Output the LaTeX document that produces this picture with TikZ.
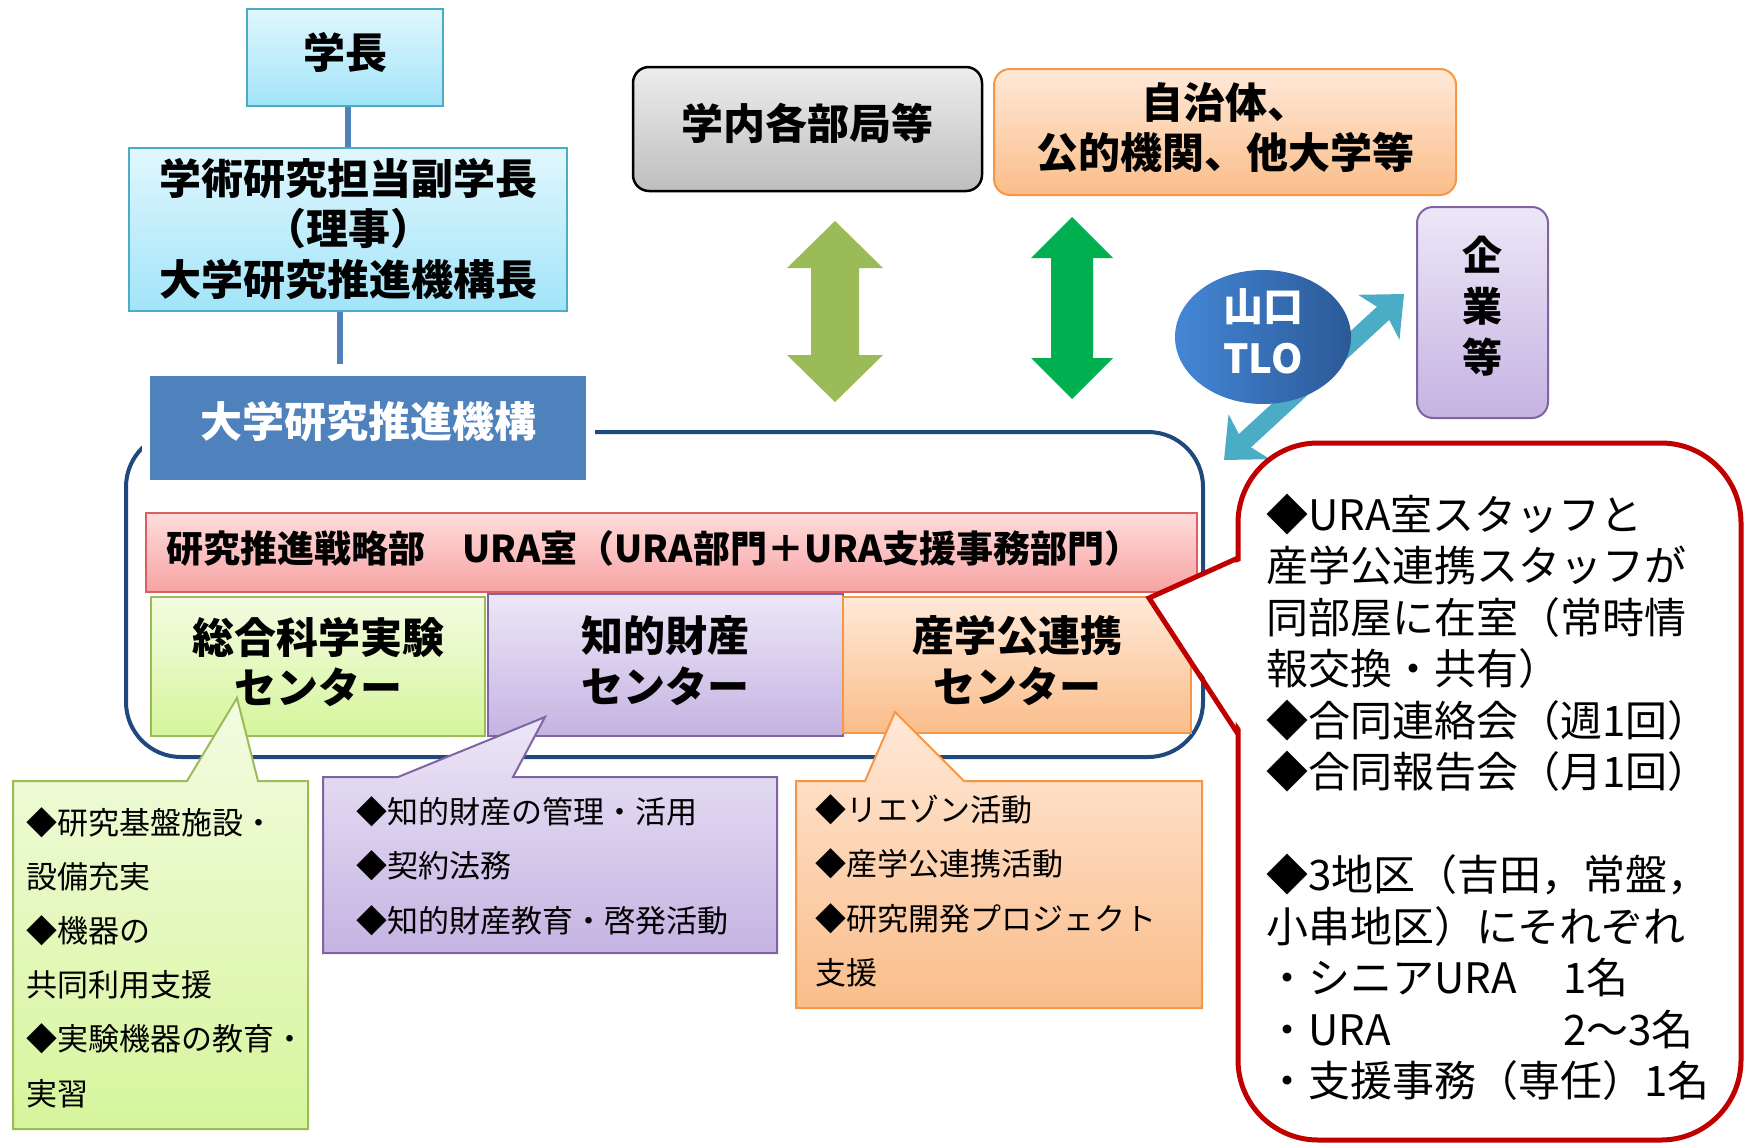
\documentclass[tikz,border=0pt]{standalone}
\usepackage{fontspec}
\setmainfont{Noto Sans CJK JP}
\usetikzlibrary{arrows.meta,shapes.geometric}
\definecolor{cyanB}{HTML}{4BACC6}
\definecolor{cyanT}{HTML}{E0F7FD}
\definecolor{cyanBt}{HTML}{A2E4F9}
\definecolor{kikoB}{HTML}{4F81BD}
\definecolor{frameC}{HTML}{1F497D}
\definecolor{redT}{HTML}{FFDCDC}
\definecolor{redBt}{HTML}{F7A3A3}
\definecolor{redB}{HTML}{D9605C}
\definecolor{grnT}{HTML}{F3FCE2}
\definecolor{grnBt}{HTML}{D6F59C}
\definecolor{grnB}{HTML}{9BBB59}
\definecolor{purT}{HTML}{ECE7F7}
\definecolor{purBt}{HTML}{C5B3E2}
\definecolor{purB}{HTML}{8064A2}
\definecolor{orgT}{HTML}{FFE9D8}
\definecolor{orgBt}{HTML}{FABD8A}
\definecolor{orgB}{HTML}{F79646}
\definecolor{gryT}{HTML}{EDEDED}
\definecolor{gryBt}{HTML}{BEBEBE}
\definecolor{oliveA}{HTML}{9BBB59}
\definecolor{grnArrow}{HTML}{00B050}
\definecolor{tealA}{HTML}{4BACC6}
\definecolor{tloL}{HTML}{4487D6}
\definecolor{tloR}{HTML}{2B5997}
\definecolor{calloutR}{HTML}{C00000}
\tikzset{
  hd/.style={font=\bfseries\fontsize{42}{50.5}\selectfont},
  box/.style={draw, line width=2pt, inner sep=0pt},
  lbl/.style={hd, align=center, inner sep=0pt},
  link/.style={draw=kikoB, line width=6pt},
  txt/.style={font=\fontsize{31}{37}\selectfont, anchor=base west, inner sep=0pt},
  bigtxt/.style={font=\fontsize{42}{50}\selectfont, anchor=base west, inner sep=0pt},
  tealarr/.style={draw=tealA, line width=18pt, {Stealth[length=34pt,width=60pt,inset=8pt]}-{Stealth[length=34pt,width=60pt,inset=8pt]}},
  smallcall/.style={line width=2pt},
}
\begin{document}
\begin{tikzpicture}[x=1pt,y=-1pt]
\useasboundingbox (0,0) rectangle (1744,1143);

% top hierarchy
\node[box, draw=cyanB, top color=cyanT, bottom color=cyanBt, minimum width=196pt, minimum height=97pt] (gakucho) at (345,57.5) {};
\node[lbl] (gakucho-t) at ([yshift=5.5pt]gakucho.center) {学長};
\node[box, draw=cyanB, top color=cyanT, bottom color=cyanBt, minimum width=438pt, minimum height=163pt] (fuku) at (348,229.5) {};
\node[lbl] (fuku-t) at ([yshift=0.5pt]fuku.center) {学術研究担当副学長\\（理事）\\大学研究推進機構長};
\draw[link] (fuku.north) -- (fuku.north |- gakucho.south);
\coordinate (l2) at (340,364);
\draw[link] (l2 |- fuku.south) -- (l2);

% frame
\node[draw=frameC, line width=4pt, rounded corners=55pt, minimum width=1077pt, minimum height=325pt, inner sep=0pt] (frame) at (664.5,594.5) {};
\fill[white] (142,367) rectangle (595,489);
\node[fill=kikoB, minimum width=436pt, minimum height=104pt, inner sep=0pt] (kiko) at (368,428) {};
\node[lbl, text=white] (kiko-t) at ([yshift=6pt]kiko.center) {大学研究推進機構};

% URA bar
\node[box, draw=redB, top color=redT, bottom color=redBt, minimum width=1051pt, minimum height=79pt] (ura) at (671.5,552.5) {};
\node[inner sep=0pt, anchor=west, font=\bfseries\fontsize{37}{44}\selectfont] (ura-t) at ([xshift=21pt,yshift=4.5pt]ura.west) {研究推進戦略部　URA室（URA部門＋URA支援事務部門）};

% centers
\node[box, draw=grnB, top color=grnT, bottom color=grnBt, minimum width=334pt, minimum height=139pt] (sogo) at (318,666.5) {};
\node[lbl] (sogo-t) at ([yshift=4.5pt]sogo.center) {総合科学実験\\センター};
\node[box, draw=purB, top color=purT, bottom color=purBt, minimum width=355pt, minimum height=142pt] (chiteki) at (665.5,665) {};
\node[lbl] (chiteki-t) at ([yshift=4.5pt]chiteki.center) {知的財産\\センター};
\node[box, draw=orgB, top color=orgT, bottom color=orgBt, minimum width=348pt, minimum height=136pt] (sangaku) at (1017,665) {};
\node[lbl] (sangaku-t) at ([yshift=4.5pt]sangaku.center) {産学公連携\\センター};

% outside partners
\node[box, draw=black, line width=2.5pt, rounded corners=16pt, top color=gryT, bottom color=gryBt, minimum width=349pt, minimum height=124pt] (gakunai) at (807.5,129) {};
\node[lbl] (gakunai-t) at ([yshift=5.5pt]gakunai.center) {学内各部局等};
\node[box, draw=orgB, rounded corners=16pt, top color=orgT, bottom color=orgBt, minimum width=462pt, minimum height=126pt] (jichi) at (1225,132) {};
\node[lbl] (jichi-t) at ([yshift=4.5pt]jichi.center) {自治体、\\公的機関、他大学等};
\node[box, draw=purB, rounded corners=16pt, top color=purT, bottom color=purBt, minimum width=131pt, minimum height=211pt] (kigyo) at (1482.5,312.5) {};
\node[lbl, font=\bfseries\fontsize{40}{51}\selectfont] (kigyo-t) at ([yshift=6pt]kigyo.center) {企\\業\\等};

% big double arrows
\fill[oliveA] (835,221) -- (883,268) -- (859,268) -- (859,355) -- (883,355) -- (835,402) -- (787,355) -- (811,355) -- (811,268) -- (787,268) -- cycle;
\fill[grnArrow] (1072,217) -- (1113,258) -- (1093,258) -- (1093,358) -- (1113,358) -- (1072,399) -- (1031,358) -- (1051,358) -- (1051,258) -- (1031,258) -- cycle;

% TLO
\coordinate (tA) at (1224,460);
\coordinate (tB) at (1404,294);
\draw[tealarr] (tA) -- (tB);
\node[ellipse, left color=tloL, right color=tloR, minimum width=176pt, minimum height=134pt, inner sep=0pt] (tlo) at (1263,337) {};
\node[lbl, text=white, font=\bfseries\fontsize{40}{52}\selectfont] (tlo-t) at ([yshift=6pt]tlo.center) {山口\\TLO};

% small callouts
\draw[smallcall, draw=grnB, top color=grnT, bottom color=grnBt] (13,781) -- (187,781) -- (237,698) -- (258,781) -- (308,781) -- (308,1129) -- (13,1129) -- cycle;
\foreach \t [count=\i] in {◆研究基盤施設・, 設備充実, ◆機器の, 共同利用支援, ◆実験機器の教育・, 実習}
  \node[txt] (g\i) at (26,{834+54.2*(\i-1)}) {\t};

\draw[smallcall, draw=purB, top color=purT, bottom color=purBt] (323,777) -- (398,777) -- (545,717) -- (513,777) -- (777,777) -- (777,953) -- (323,953) -- cycle;
\foreach \t [count=\i] in {◆知的財産の管理・活用, ◆契約法務, ◆知的財産教育・啓発活動}
  \node[txt] (p\i) at (356,{823+54.5*(\i-1)}) {\t};

\draw[smallcall, draw=orgB, top color=orgT, bottom color=orgBt] (796,781) -- (865,781) -- (895,712) -- (964,781) -- (1202,781) -- (1202,1008) -- (796,1008) -- cycle;
\foreach \t [count=\i] in {◆リエゾン活動, ◆産学公連携活動, ◆研究開発プロジェクト, 支援}
  \node[txt] (o\i) at (815,{821+54.5*(\i-1)}) {\t};

% red callout
\node[draw=calloutR, fill=white, line width=5pt, rounded corners=80pt, minimum width=503pt, minimum height=697pt, inner sep=0pt] (rcall) at (1489.5,791.5) {};
\fill[white] (1243,560) -- (1149,598) -- (1243,732) -- cycle;
\coordinate (rt1) at (1238,558);
\coordinate (rtip) at (1149,598);
\coordinate (rt2) at (1238,734);
\draw[calloutR, line width=5pt, line join=miter] (rt1) -- (rtip) -- (rt2);
\foreach \t [count=\i] in {{◆URA室スタッフと}, {産学公連携スタッフが}, {同部屋に在室（常時情}, {報交換・共有）}, {◆合同連絡会（週1回）}, {◆合同報告会（月1回）}, {}, {◆3地区（吉田，常盤，}, {小串地区）にそれぞれ}, {\makebox[297pt][l]{・シニアURA}1名}, {\makebox[297pt][l]{・URA}2～3名}, {・支援事務（専任）1名}}
  \node[bigtxt] (r\i) at (1266,{530+51.5*(\i-1)}) {\t};
\end{tikzpicture}
\end{document}
